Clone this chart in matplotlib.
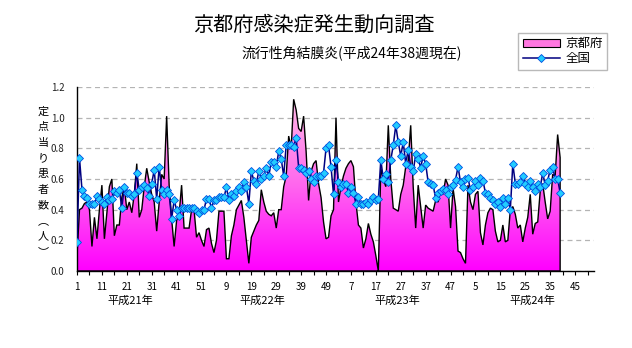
import numpy as np
import matplotlib
matplotlib.use('Agg')
import matplotlib.pyplot as plt
from matplotlib.colors import LinearSegmentedColormap
from matplotlib.patches import Polygon, Patch
from matplotlib.lines import Line2D

plt.rcParams['font.family'] = ['Noto Sans CJK JP', 'DejaVu Sans']

# ---------------- data ----------------
kyoto = [
    0.10, 0.40, 0.41, 0.44, 0.45, 0.40, 0.16, 0.35, 0.21, 0.40,
    0.56, 0.21, 0.38, 0.55, 0.60, 0.23, 0.30, 0.30, 0.48, 0.55,
    0.40, 0.45, 0.38, 0.50, 0.70, 0.35, 0.40, 0.55, 0.67, 0.58,
    0.50, 0.45, 0.26, 0.45, 0.63, 0.60, 1.01, 0.56, 0.34, 0.16,
    0.33, 0.37, 0.56, 0.28, 0.28, 0.28, 0.40, 0.40, 0.22, 0.25,
    0.20, 0.16, 0.27, 0.28, 0.18, 0.12, 0.20, 0.39, 0.39, 0.39,
    0.08, 0.08, 0.23, 0.30, 0.40, 0.43, 0.46, 0.35, 0.20, 0.05,
    0.22, 0.26, 0.30, 0.33, 0.53, 0.45, 0.39, 0.37, 0.36, 0.38,
    0.28, 0.40, 0.40, 0.55, 0.62, 0.88, 0.80, 1.12, 1.05, 0.93,
    0.91, 1.01, 0.78, 0.46, 0.65, 0.70, 0.72, 0.57, 0.48, 0.32,
    0.21, 0.22, 0.36, 0.40, 1.00, 0.45, 0.55, 0.62, 0.67, 0.70,
    0.72, 0.68, 0.45, 0.30, 0.28, 0.15, 0.21, 0.31, 0.24, 0.19,
    0.10, 0.00, 0.67, 0.60, 0.55, 0.95, 0.60, 0.41, 0.40, 0.39,
    0.50, 0.56, 0.68, 0.72, 0.95, 0.55, 0.28, 0.56, 0.42, 0.28,
    0.43, 0.41, 0.40, 0.39, 0.46, 0.45, 0.52, 0.50, 0.60, 0.56,
    0.28, 0.54, 0.42, 0.13, 0.12, 0.08, 0.05, 0.56, 0.45, 0.40,
    0.50, 0.52, 0.25, 0.17, 0.30, 0.38, 0.41, 0.40, 0.26, 0.19,
    0.20, 0.30, 0.19, 0.20, 0.40, 0.42, 0.37, 0.28, 0.30, 0.19,
    0.28, 0.35, 0.50, 0.24, 0.31, 0.32, 0.52, 0.57, 0.45, 0.34,
    0.39, 0.63, 0.62, 0.89, 0.74,
]

national = [
    0.19, 0.736, 0.53, 0.49, 0.475, 0.44, 0.435, 0.435, 0.49, 0.47,
    0.45, 0.435, 0.48, 0.46, 0.47, 0.52, 0.51, 0.53, 0.41, 0.55,
    0.51, 0.51, 0.49, 0.50, 0.64, 0.53, 0.55, 0.56, 0.54, 0.49,
    0.57, 0.66, 0.47, 0.68,
    0.53, 0.50, 0.53, 0.50, 0.34, 0.46, 0.40, 0.36, 0.41, 0.41,
    0.41, 0.41, 0.41, 0.41, 0.39, 0.38, 0.40, 0.40, 0.47, 0.47,
    0.41, 0.46, 0.46, 0.48, 0.48, 0.48, 0.545, 0.46, 0.50, 0.49,
    0.52, 0.55, 0.52, 0.58, 0.55, 0.44,
    0.65, 0.59, 0.57, 0.65, 0.60, 0.62, 0.675, 0.62, 0.71, 0.71,
    0.68, 0.78, 0.73, 0.62, 0.82, 0.82, 0.82, 0.81, 0.87, 0.675,
    0.675, 0.66, 0.64, 0.65, 0.60, 0.58, 0.62, 0.62, 0.62, 0.64,
    0.80, 0.82, 0.68, 0.50, 0.725, 0.58,
    0.55, 0.57, 0.57, 0.51, 0.545, 0.51, 0.44, 0.48, 0.44, 0.44,
    0.45, 0.44, 0.46, 0.48, 0.46, 0.47, 0.725, 0.60, 0.63, 0.58,
    0.725, 0.82, 0.95, 0.84, 0.75, 0.84, 0.70, 0.79, 0.68, 0.65,
    0.76, 0.73, 0.675, 0.75, 0.70, 0.58,
    0.57, 0.56, 0.475, 0.51, 0.52, 0.535, 0.53, 0.50, 0.55, 0.56,
    0.595, 0.68, 0.58, 0.55, 0.60, 0.605, 0.53, 0.55, 0.59, 0.56,
    0.605, 0.59, 0.51, 0.50, 0.475, 0.465, 0.435, 0.45, 0.42, 0.475,
    0.44, 0.475, 0.40, 0.70, 0.57, 0.57,
    0.58, 0.62, 0.57, 0.545, 0.59, 0.545, 0.52, 0.57, 0.545, 0.64,
    0.56, 0.59, 0.66, 0.68, 0.60, 0.60, 0.51,
]

week_labels = ['1', '11', '21', '31', '41', '51', '9', '19', '29', '39', '49',
               '7', '17', '27', '37', '47', '5', '15', '25', '35', '45']
year_labels = ['平成21年', '平成22年', '平成23年', '平成24年']
series_names = ['京都府', '全国']
title_text = '京都府感染症発生動向調査'
subtitle_text = '流行性角結膜炎(平成24年38週現在)'
ylabel_chars = ['定', '点', '当', 'り', '患', '者', '数', '︵', '人', '︶']

# ---------------- figure ----------------
W, H = 632, 348
fig = plt.figure(figsize=(W / 100, H / 100), dpi=100)
fig.patch.set_facecolor('white')

L, R, B, T = 77, 594, 271, 87
ax = fig.add_axes([L / W, 1 - B / H, (R - L) / W, (B - T) / H])
n_cat = 207.6
ax.set_xlim(0, n_cat)
ax.set_ylim(0, 1.2)

x = np.arange(len(kyoto))
ky = np.array(kyoto)

# gridlines
yt = np.round(np.arange(0, 1.21, 0.2), 1)
ax.set_yticks(yt)
ax.set_yticklabels([f'{v:.1f}' for v in yt])
ax.yaxis.grid(True, color='#B4B4B4', linestyle=(0, (4, 3)), linewidth=0.9)
ax.set_axisbelow(True)

# gradient filled area
cmap = LinearSegmentedColormap.from_list('pk', ['#FF00FF', '#FF66EE', '#FFB8E6'])
grad = np.linspace(0, 1, 256).reshape(-1, 1)
im = ax.imshow(grad, extent=[x[0], x[-1], 0, ky.max()], origin='lower',
               aspect='auto', cmap=cmap, zorder=2, interpolation='bilinear')
verts = np.column_stack([np.r_[x[0], x, x[-1]], np.r_[0, ky, 0]])
poly = Polygon(verts, closed=True, facecolor='none', edgecolor='black',
               linewidth=1.0, zorder=3)
ax.add_patch(poly)
im.set_clip_path(poly)

# national line
ax.plot(x, national, color='#000080', linewidth=1.1, marker='D', markersize=4.3,
        markerfacecolor='#22CCFF', markeredgecolor='#0050E0', markeredgewidth=0.6,
        zorder=4)

# axes styling
for s in ['top', 'right']:
    ax.spines[s].set_visible(False)
ax.spines['left'].set_color('black')
ax.spines['bottom'].set_color('black')
ax.spines['left'].set_linewidth(1.0)
ax.spines['bottom'].set_linewidth(1.0)

ticks = np.arange(0, 206, 5)
ax.set_xticks(ticks)
lab_iter = iter(week_labels)
ax.set_xticklabels([next(lab_iter) if t % 10 == 0 else '' for t in ticks])
ax.tick_params(axis='x', direction='out', length=3, width=0.8, pad=5,
               labelsize=7, colors='black')
ax.tick_params(axis='y', length=0, pad=9, labelsize=7, labelcolor='#222222')

# year labels
for xp, lab in zip([130, 262, 397, 532], year_labels):
    fig.text(xp / W, 1 - 301 / H, lab, ha='center', va='center', fontsize=8)

# titles
fig.text(314 / W, 1 - 25 / H, title_text, ha='center', va='center', fontsize=14.5)
fig.text(352 / W, 1 - 53 / H, subtitle_text, ha='center', va='center', fontsize=10)

# vertical y label, one character per line
for k, ch in enumerate(ylabel_chars):
    fig.text(43 / W, 1 - (111.7 + k * 15.6) / H, ch, ha='center', va='center',
             fontsize=8)

# legend
handles = [Patch(facecolor='#FF77E0', edgecolor='black', linewidth=0.8),
           Line2D([0], [0], color='#000080', linewidth=1.1, marker='D',
                  markersize=4.3, markerfacecolor='#22CCFF',
                  markeredgecolor='#0050E0', markeredgewidth=0.6)]
leg = fig.legend(handles, series_names, loc='upper right',
                 bbox_to_anchor=(607 / W, 1 - 33 / H), frameon=True,
                 fancybox=False, edgecolor='#A8A8A8', fontsize=9,
                 handlelength=3.0, handleheight=0.7, borderpad=0.35,
                 labelspacing=0.15, handletextpad=0.4, borderaxespad=0)
leg.get_frame().set_linewidth(1.0)

fig.savefig('out.png', dpi=100, facecolor='white')
